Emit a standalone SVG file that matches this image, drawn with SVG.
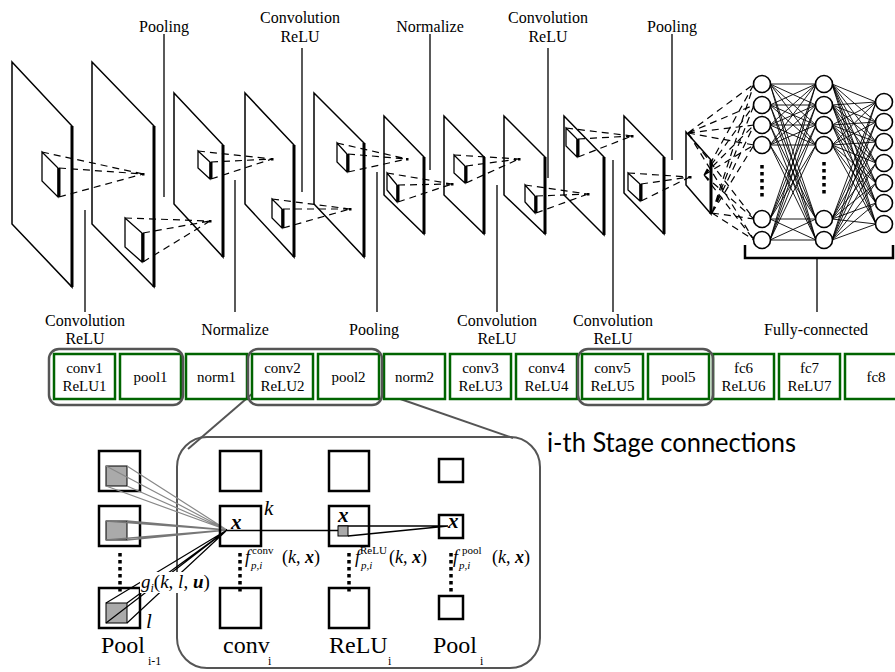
<svg xmlns="http://www.w3.org/2000/svg" width="895" height="672" viewBox="0 0 895 672">
<defs>
<style>
.pl{fill:#fff;stroke:#000;stroke-width:1.5;stroke-linejoin:miter}
.pe{stroke:#000;stroke-width:3}
.cb{fill:#fff;stroke:#000;stroke-width:1.3}
.da{stroke:#000;stroke-width:1.2;stroke-dasharray:7,5;fill:none}
.lb{font-family:"Liberation Serif","Times New Roman",serif;font-size:16px;fill:#000;text-anchor:middle}
.tk{stroke:#000;stroke-width:1.3}
.gb{fill:#fff;stroke:#006400;stroke-width:2.5}
.bt{font-family:"Liberation Serif","Times New Roman",serif;font-size:15px;fill:#000;text-anchor:middle}
.grp{fill:none;stroke:#555;stroke-width:2.5}
.nc{fill:#fff;stroke:#000;stroke-width:1.6}
.fc{stroke:#000;stroke-width:0.9}
.sq{fill:#fff;stroke:#000;stroke-width:2.5}
.gs{fill:#aaa;stroke:#000;stroke-width:1}
.dt{stroke:#000;stroke-width:3.5;stroke-dasharray:3.5,3.5}
.mf{font-family:"Liberation Serif","Times New Roman",serif;fill:#000}
.dot{fill:#000}
</style>
</defs>

<!-- Feature map planes -->
<g id="planes">
<g id="plane1"><polygon class="pl" points="12,62 72,126 72,287 12,224"/><line class="pe" x1="72" y1="126" x2="72" y2="287"/></g>
<g id="plane2"><polygon class="pl" points="92,62 154,126 154,287 92,224"/><line class="pe" x1="154" y1="126" x2="154" y2="287"/></g>
<g id="plane3"><polygon class="pl" points="174,93 223,145 223,257 174,204"/><line class="pe" x1="223" y1="145" x2="223" y2="257"/></g>
<g id="plane4"><polygon class="pl" points="245,93 294,145 294,257 245,204"/><line class="pe" x1="294" y1="145" x2="294" y2="257"/></g>
<g id="plane5"><polygon class="pl" points="314,93 364,143 364,257 314,204"/><line class="pe" x1="364" y1="143" x2="364" y2="257"/></g>
<g id="plane6"><polygon class="pl" points="384,116 424,157 424,234 384,195"/><line class="pe" x1="424" y1="157" x2="424" y2="234"/></g>
<g id="plane7"><polygon class="pl" points="444,116 484,157 484,234 444,195"/><line class="pe" x1="484" y1="157" x2="484" y2="234"/></g>
<g id="plane8"><polygon class="pl" points="504,116 545,157 545,234 504,195"/><line class="pe" x1="545" y1="157" x2="545" y2="234"/></g>
<g id="plane9"><polygon class="pl" points="564,116 604,157 604,235 564,195"/><line class="pe" x1="604" y1="157" x2="604" y2="235"/></g>
<g id="plane10"><polygon class="pl" points="624,116 664,157 664,234 624,193"/><line class="pe" x1="664" y1="157" x2="664" y2="234"/></g>
<g id="plane11"><polygon class="pl" points="686,132 711,160 711,214 686,185"/><line class="pe" x1="711" y1="160" x2="711" y2="214"/></g>
</g>

<!-- Kernels -->
<g id="kernels">
<polygon class="cb" points="42,152 58,168 58,197 42,181"/><line class="pe" x1="59" y1="168" x2="59" y2="197"/>
<polygon class="cb" points="125,218 142,233 142,262 125,247"/><line class="pe" x1="143" y1="233" x2="143" y2="262"/>
<polygon class="cb" points="198,151 210,162 210,179 198,168"/><line class="pe" x1="211" y1="162" x2="211" y2="179"/>
<polygon class="cb" points="272,199 282,209 282,228 272,218"/><line class="pe" x1="283" y1="209" x2="283" y2="228"/>
<polygon class="cb" points="337,143 347,154 347,172 337,162"/><line class="pe" x1="348" y1="154" x2="348" y2="172"/>
<polygon class="cb" points="387,173 397,185 397,202 387,190"/><line class="pe" x1="398" y1="185" x2="398" y2="202"/>
<polygon class="cb" points="454,155 465,166 465,183 454,173"/><line class="pe" x1="466" y1="166" x2="466" y2="183"/>
<polygon class="cb" points="525,185 535,196 535,213 525,202"/><line class="pe" x1="536" y1="196" x2="536" y2="213"/>
<polygon class="cb" points="566,128 577,139 577,157 566,146"/><line class="pe" x1="578" y1="139" x2="578" y2="157"/>
<polygon class="cb" points="628,173 640,184 640,201 628,190"/><line class="pe" x1="641" y1="184" x2="641" y2="201"/>
</g>

<!-- Connectors -->
<g id="connectors">
<path class="da" d="M42,152L143,174M59,168L143,174M59,197L143,174"/>
<path class="da" d="M125,218L210,221M143,233L210,221M143,262L210,221"/>
<path class="da" d="M198,151L272,159M211,162L272,159M211,179L272,159"/>
<path class="da" d="M272,199L350,209M283,209L350,209M283,228L350,209"/>
<path class="da" d="M337,143L407,159M348,154L407,159M348,172L407,159"/>
<path class="da" d="M387,173L452,184M398,185L452,184M398,202L452,184"/>
<path class="da" d="M454,155L519,159M466,166L519,159M466,183L519,159"/>
<path class="da" d="M525,185L588,194M536,196L588,194M536,213L588,194"/>
<path class="da" d="M566,128L632,136M578,139L632,136M578,157L632,136"/>
<path class="da" d="M628,173L690,177M641,184L690,177M641,201L690,177"/>
<path class="da" d="M688,133L754,84M688,133L754,105M688,133L754,125M688,133L754,145M688,133L754,219M688,133L754,240"/>
<path class="da" d="M704,175L754,84M704,175L754,105M704,175L754,125M704,175L754,145M704,175L754,219M704,175L754,240"/>
<path class="da" d="M712,213L754,84M712,213L754,105M712,213L754,125M712,213L754,145M712,213L754,219M712,213L754,240"/>
<path class="fc" d="M770,84L816,84M770,84L816,105M770,84L816,125M770,84L816,145M770,84L816,219M770,84L816,240
M770,105L816,84M770,105L816,105M770,105L816,125M770,105L816,145M770,105L816,219M770,105L816,240
M770,125L816,84M770,125L816,105M770,125L816,125M770,125L816,145M770,125L816,219M770,125L816,240
M770,145L816,84M770,145L816,105M770,145L816,125M770,145L816,145M770,145L816,219M770,145L816,240
M770,219L816,84M770,219L816,105M770,219L816,125M770,219L816,145M770,219L816,219M770,219L816,240
M770,240L816,84M770,240L816,105M770,240L816,125M770,240L816,145M770,240L816,219M770,240L816,240"/>
<path class="fc" d="M832,84L876,102M832,84L876,122M832,84L876,142M832,84L876,163M832,84L876,183M832,84L876,203M832,84L876,224
M832,105L876,102M832,105L876,122M832,105L876,142M832,105L876,163M832,105L876,183M832,105L876,203M832,105L876,224
M832,125L876,102M832,125L876,122M832,125L876,142M832,125L876,163M832,125L876,183M832,125L876,203M832,125L876,224
M832,145L876,102M832,145L876,122M832,145L876,142M832,145L876,163M832,145L876,183M832,145L876,203M832,145L876,224
M832,219L876,102M832,219L876,122M832,219L876,142M832,219L876,163M832,219L876,183M832,219L876,203M832,219L876,224
M832,240L876,102M832,240L876,122M832,240L876,142M832,240L876,163M832,240L876,183M832,240L876,203M832,240L876,224"/>
<g class="dot">
<rect x="142" y="173" width="2.5" height="2.5"/><rect x="209" y="220" width="2.5" height="2.5"/>
<rect x="271" y="158" width="2.5" height="2.5"/><rect x="349" y="208" width="2.5" height="2.5"/>
<rect x="406" y="158" width="2.5" height="2.5"/><rect x="451" y="183" width="2.5" height="2.5"/>
<rect x="518" y="158" width="2.5" height="2.5"/><rect x="587" y="193" width="2.5" height="2.5"/>
<rect x="631" y="135" width="2.5" height="2.5"/><rect x="689" y="176" width="2.5" height="2.5"/>
</g>
<line class="tk" x1="164" y1="34" x2="164" y2="197"/>
<line class="tk" x1="302" y1="48" x2="302" y2="192"/>
<line class="tk" x1="430" y1="34" x2="430" y2="170"/>
<line class="tk" x1="548" y1="48" x2="548" y2="178"/>
<line class="tk" x1="672" y1="34" x2="672" y2="160"/>
<line class="tk" x1="85" y1="210" x2="85" y2="312"/>
<line class="tk" x1="235" y1="180" x2="235" y2="312"/>
<line class="tk" x1="377" y1="172" x2="377" y2="312"/>
<line class="tk" x1="497" y1="185" x2="497" y2="312"/>
<line class="tk" x1="613" y1="160" x2="613" y2="312"/>
<line class="tk" x1="817" y1="258" x2="817" y2="312"/>
<polyline points="745,245 745,258 893,258 893,245" fill="none" stroke="#000" stroke-width="2.5"/>
<line x1="253" y1="393" x2="188" y2="449" stroke="#555" stroke-width="2"/>
<line x1="383" y1="393" x2="513" y2="438" stroke="#555" stroke-width="2"/>
</g>

<!-- Neurons -->
<g id="fc-layers">
<g id="fc6-neurons">
<circle class="nc" cx="762" cy="84" r="8.5"/><circle class="nc" cx="762" cy="105" r="8.5"/><circle class="nc" cx="762" cy="125" r="8.5"/><circle class="nc" cx="762" cy="145" r="8.5"/><circle class="nc" cx="762" cy="219" r="8.5"/><circle class="nc" cx="762" cy="240" r="8.5"/>
<line class="dt" x1="762" y1="165" x2="762" y2="197"/>
</g>
<g id="fc7-neurons">
<circle class="nc" cx="824" cy="84" r="8.5"/><circle class="nc" cx="824" cy="105" r="8.5"/><circle class="nc" cx="824" cy="125" r="8.5"/><circle class="nc" cx="824" cy="145" r="8.5"/><circle class="nc" cx="824" cy="219" r="8.5"/><circle class="nc" cx="824" cy="240" r="8.5"/>
<line class="dt" x1="824" y1="162" x2="824" y2="194"/>
</g>
<g id="fc8-neurons">
<circle class="nc" cx="884" cy="102" r="8.5"/><circle class="nc" cx="884" cy="122" r="8.5"/><circle class="nc" cx="884" cy="142" r="8.5"/><circle class="nc" cx="884" cy="163" r="8.5"/><circle class="nc" cx="884" cy="183" r="8.5"/><circle class="nc" cx="884" cy="203" r="8.5"/><circle class="nc" cx="884" cy="224" r="8.5"/>
</g>
</g>

<!-- Top and bottom labels -->
<g id="labels">
<text class="lb" x="164" y="32">Pooling</text>
<text class="lb" x="300" y="23">Convolution</text><text class="lb" x="300" y="42">ReLU</text>
<text class="lb" x="430" y="32">Normalize</text>
<text class="lb" x="548" y="23">Convolution</text><text class="lb" x="548" y="42">ReLU</text>
<text class="lb" x="672" y="32">Pooling</text>
<text class="lb" x="85" y="326">Convolution</text><text class="lb" x="85" y="344">ReLU</text>
<text class="lb" x="235" y="335">Normalize</text>
<text class="lb" x="374" y="335">Pooling</text>
<text class="lb" x="497" y="326">Convolution</text><text class="lb" x="497" y="344">ReLU</text>
<text class="lb" x="613" y="326">Convolution</text><text class="lb" x="613" y="344">ReLU</text>
<text class="lb" x="816" y="335">Fully-connected</text>
</g>

<!-- Layer boxes -->
<g id="layer-boxes">
<g id="conv1"><rect class="gb" x="54" y="354" width="61" height="45"/><text class="bt" x="84.5" y="373">conv1</text><text class="bt" x="84.5" y="391">ReLU1</text></g>
<g id="pool1"><rect class="gb" x="120" y="354" width="61" height="45"/><text class="bt" x="150.5" y="382">pool1</text></g>
<g id="norm1"><rect class="gb" x="186" y="354" width="61" height="45"/><text class="bt" x="216.5" y="382">norm1</text></g>
<g id="conv2"><rect class="gb" x="252" y="354" width="61" height="45"/><text class="bt" x="282.5" y="373">conv2</text><text class="bt" x="282.5" y="391">ReLU2</text></g>
<g id="pool2"><rect class="gb" x="318" y="354" width="61" height="45"/><text class="bt" x="348.5" y="382">pool2</text></g>
<g id="norm2"><rect class="gb" x="384" y="354" width="61" height="45"/><text class="bt" x="414.5" y="382">norm2</text></g>
<g id="conv3"><rect class="gb" x="450" y="354" width="61" height="45"/><text class="bt" x="480.5" y="373">conv3</text><text class="bt" x="480.5" y="391">ReLU3</text></g>
<g id="conv4"><rect class="gb" x="516" y="354" width="61" height="45"/><text class="bt" x="546.5" y="373">conv4</text><text class="bt" x="546.5" y="391">ReLU4</text></g>
<g id="conv5"><rect class="gb" x="582" y="354" width="61" height="45"/><text class="bt" x="612.5" y="373">conv5</text><text class="bt" x="612.5" y="391">ReLU5</text></g>
<g id="pool5"><rect class="gb" x="648" y="354" width="61" height="45"/><text class="bt" x="678.5" y="382">pool5</text></g>
<g id="fc6"><rect class="gb" x="713" y="354" width="61" height="45"/><text class="bt" x="743.5" y="373">fc6</text><text class="bt" x="743.5" y="391">ReLU6</text></g>
<g id="fc7"><rect class="gb" x="779" y="354" width="61" height="45"/><text class="bt" x="809.5" y="373">fc7</text><text class="bt" x="809.5" y="391">ReLU7</text></g>
<g id="fc8"><rect class="gb" x="845" y="354" width="61" height="45"/><text class="bt" x="876" y="382">fc8</text></g>
<g id="stage-groups">
<rect class="grp" x="49" y="349" width="134" height="56" rx="10"/>
<rect class="grp" x="248" y="349" width="134" height="56" rx="10"/>
<rect class="grp" x="578" y="349" width="135" height="56" rx="10"/>
</g>
</g>

<!-- Stage detail -->
<g id="stage-detail">
<rect x="177" y="437" width="363" height="231" rx="30" fill="none" stroke="#555" stroke-width="2"/>
<text x="547" y="452" font-family="Lato,'Open Sans',sans-serif" font-size="27" textLength="249" lengthAdjust="spacingAndGlyphs" fill="#000">i-th Stage connections</text>

<g id="pool-prev">
<rect class="sq" x="99" y="451" width="41" height="40"/>
<rect class="sq" x="99" y="506" width="41" height="40"/>
<rect class="sq" x="99" y="588" width="41" height="40"/>
<rect class="gs" x="106" y="466" width="21" height="20"/>
<rect class="gs" x="106" y="521" width="21" height="19"/>
<rect class="gs" x="106" y="603" width="21" height="20"/>
<line class="dt" x1="120" y1="553" x2="120" y2="592"/>
</g>
<g id="stage-lines">
<path d="M106,466L227,530M127,466L227,530M106,486L227,530M127,486L227,530" stroke="#888" stroke-width="1.2" fill="none"/>
<path d="M106,521L227,530M127,521L227,530M106,540L227,530M127,540L227,530" stroke="#777" stroke-width="1.6" fill="none"/>
<path d="M106,603L227,530M127,603L227,530M106,623L227,530M127,623L227,530" stroke="#000" stroke-width="1.2" fill="none"/>
<path d="M227,530.5L338,530.5M338,526L448,526M348,536L448,526" stroke="#000" stroke-width="1.3" fill="none"/>
</g>
<g id="conv-i">
<rect class="sq" x="220" y="451" width="41" height="40"/>
<rect class="sq" x="220" y="506" width="41" height="40" style="fill:none"/>
<rect class="sq" x="220" y="588" width="41" height="40"/>
<line class="dt" x1="240" y1="553" x2="240" y2="592"/>
</g>
<g id="relu-i">
<rect class="sq" x="329" y="451" width="40" height="40"/>
<rect class="sq" x="329" y="506" width="40" height="40" style="fill:none"/>
<rect class="sq" x="329" y="588" width="40" height="40"/>
<rect class="gs" x="338" y="526" width="10" height="10"/>
<line class="dt" x1="349" y1="553" x2="349" y2="592"/>
</g>
<g id="pool-i">
<rect class="sq" x="439" y="459" width="24" height="23"/>
<rect class="sq" x="439" y="515" width="24" height="23" style="fill:none"/>
<rect class="sq" x="439" y="596" width="24" height="23"/>
<line class="dt" x1="451" y1="553" x2="451" y2="592"/>
</g>

<rect x="140" y="572" width="73" height="21" fill="#fff"/>
<text class="mf" x="141" y="588" font-size="19"><tspan font-style="italic">g</tspan><tspan font-style="italic" font-size="12" dy="4">i</tspan><tspan dy="-4">(</tspan><tspan font-style="italic">k</tspan>, <tspan font-style="italic">l</tspan>, <tspan font-style="italic" font-weight="bold">u</tspan>)</text>

<text class="mf" x="264" y="515" font-size="21" font-style="italic">k</text>
<text class="mf" x="146" y="628" font-size="21" font-style="italic">l</text>
<text class="mf" x="231" y="529" font-size="21" font-style="italic" font-weight="bold">x</text>
<text class="mf" x="338" y="522" font-size="21" font-style="italic" font-weight="bold">x</text>
<text class="mf" x="448" y="528" font-size="21" font-style="italic" font-weight="bold">x</text>

<text class="mf" x="245" y="563" font-size="18" font-style="italic">f</text>
<text class="mf" x="252" y="554" font-size="11">conv</text>
<text class="mf" x="251" y="569" font-size="11" font-style="italic">p,i</text>
<text class="mf" x="282" y="563" font-size="18">(<tspan font-style="italic">k</tspan>, <tspan font-style="italic" font-weight="bold">x</tspan>)</text>

<text class="mf" x="355" y="563" font-size="18" font-style="italic">f</text>
<text class="mf" x="360" y="554" font-size="11">ReLU</text>
<text class="mf" x="361" y="569" font-size="11" font-style="italic">p,i</text>
<text class="mf" x="389" y="563" font-size="18">(<tspan font-style="italic">k</tspan>, <tspan font-style="italic" font-weight="bold">x</tspan>)</text>

<text class="mf" x="453" y="563" font-size="18" font-style="italic">f</text>
<text class="mf" x="462" y="554" font-size="11">pool</text>
<text class="mf" x="459" y="569" font-size="11" font-style="italic">p,i</text>
<text class="mf" x="492" y="563" font-size="18">(<tspan font-style="italic">k</tspan>, <tspan font-style="italic" font-weight="bold">x</tspan>)</text>

<text class="mf" x="101" y="653" font-size="24">Pool</text><text class="mf" x="148" y="665" font-size="12">i-1</text>
<text class="mf" x="223" y="653" font-size="24">conv</text><text class="mf" x="268" y="665" font-size="12">i</text>
<text class="mf" x="329" y="653" font-size="24">ReLU</text><text class="mf" x="388" y="665" font-size="12">i</text>
<text class="mf" x="433" y="653" font-size="24">Pool</text><text class="mf" x="480" y="665" font-size="12">i</text>
</g>
</svg>
